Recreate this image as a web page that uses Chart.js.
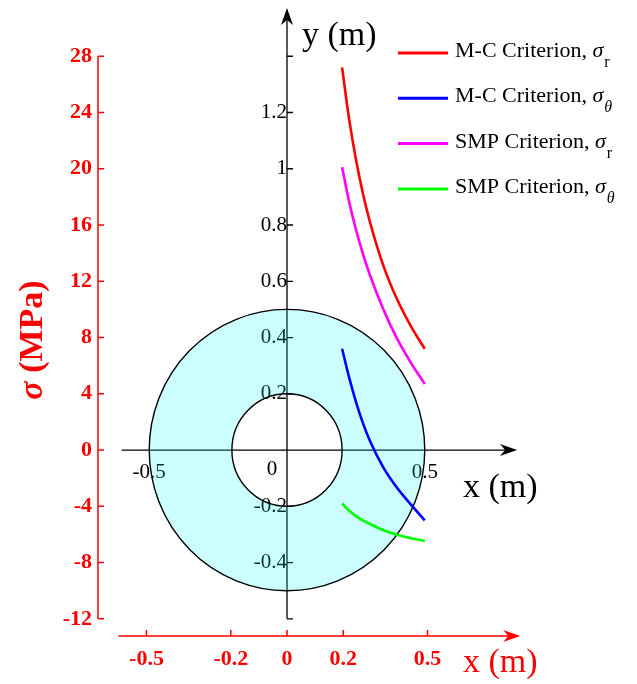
<!DOCTYPE html>
<html>
<head>
<meta charset="utf-8">
<script src="https://cdn.jsdelivr.net/npm/chart.js@4.4.0/dist/chart.umd.min.js"></script>
<style>
  html, body { margin: 0; padding: 0; background: #fff; }
  #wrap { width: 637px; height: 684px; }
</style>
</head>
<body>
<div id="wrap"><canvas id="myChart"></canvas></div>
<script>
'use strict';

// radial position r (m) and stresses (MPa)
const radius    = [0.2, 0.225, 0.25, 0.275, 0.3, 0.35, 0.4, 0.45, 0.5];
const mcSigmaR  = [27.2, 23.6, 20.7, 18.3, 16.3, 13.1, 10.7, 8.8, 7.2];
const mcSigmaT  = [7.2, 5.2, 3.45, 1.95, 0.7, -1.25, -2.7, -3.88, -5.0];
const smpSigmaR = [20.1, 17.7, 15.7, 14.0, 12.5, 10.0, 7.9, 6.2, 4.7];
const smpSigmaT = [-3.8, -4.3, -4.7, -5.0, -5.25, -5.7, -6.03, -6.27, -6.45];

const seriesNames  = ['M-C Criterion, ', 'M-C Criterion, ', 'SMP Criterion, ', 'SMP Criterion, '];
const seriesSubs   = ['r', 'θ', 'r', 'θ'];
const seriesColors = ['#ff0000', '#0000ff', '#ff00ff', '#00ff00'];

// tick labels
const sigmaTicks  = [-12, -8, -4, 0, 4, 8, 12, 16, 20, 24, 28];
const xTicks      = [-0.5, -0.2, 0, 0.2, 0.5];
const yMeterTicks = [-0.4, -0.2, 0.2, 0.4, 0.6, 0.8, 1, 1.2];
const yMeterMarks = [-0.6, -0.4, -0.2, 0.2, 0.4, 0.6, 0.8, 1, 1.2, 1.4];
const xMeterTicks = [-0.5, 0.5];

// tunnel section (m)
const innerR = 0.2;
const outerR = 0.5;

const MPA_PER_M = 20;
const SIG_MIN = -13.22, SIG_MAX = 31.43;
const SERIF = '"Liberation Serif", "Times New Roman", serif';

function zeroPad(s) {
  s.paddingTop = 0; s.paddingBottom = 0; s.paddingLeft = 0; s.paddingRight = 0;
}
function fixTicks(arr) {
  return function (s) { s.ticks = arr.map(v => ({ value: v })); };
}
function arrowHead(ctx, x, y, up, color) {
  ctx.save();
  ctx.translate(x, y);
  if (up) ctx.rotate(-Math.PI / 2);
  ctx.beginPath();
  ctx.moveTo(0, 0);
  ctx.lineTo(-17, -6);
  ctx.lineTo(-12, 0);
  ctx.lineTo(-17, 6);
  ctx.closePath();
  ctx.fillStyle = color;
  ctx.fill();
  ctx.restore();
}

const sectionPlugin = {
  id: 'section',
  beforeDatasetsDraw(chart) {
    const ctx = chart.ctx;
    const xd = chart.scales.xd, ym = chart.scales.ym, x = chart.scales.x, y = chart.scales.y;
    const cx = x.getPixelForValue(0), cy = y.getPixelForValue(0);
    ctx.save();
    // inner axes
    ctx.strokeStyle = '#000';
    ctx.lineWidth = 1.3;
    ctx.beginPath();
    ctx.moveTo(xd.getPixelForValue(-0.6), cy);
    ctx.lineTo(xd.getPixelForValue(0.835) - 12, cy);
    ctx.moveTo(cx, ym.getPixelForValue(-0.6));
    ctx.lineTo(cx, chart.chartArea.top + 12);
    yMeterMarks.forEach(v => {
      const py = ym.getPixelForValue(v);
      ctx.moveTo(cx, py);
      ctx.lineTo(cx + 6, py);
    });
    ctx.stroke();
    arrowHead(ctx, xd.getPixelForValue(0.835), cy, false, '#000');
    arrowHead(ctx, cx, chart.chartArea.top, true, '#000');

    ctx.fillStyle = '#000';
    ctx.font = '21px ' + SERIF;
    ctx.textAlign = 'center';
    ctx.textBaseline = 'alphabetic';
    ctx.fillText('0', cx - 15, cy + 25);

    // annulus
    const rxo = xd.getPixelForValue(outerR) - cx, ryo = cy - ym.getPixelForValue(outerR);
    const rxi = xd.getPixelForValue(innerR) - cx, ryi = cy - ym.getPixelForValue(innerR);
    ctx.beginPath();
    ctx.ellipse(cx, cy, rxo, ryo, 0, 0, Math.PI * 2);
    ctx.ellipse(cx, cy, rxi, ryi, 0, 0, Math.PI * 2);
    ctx.fillStyle = 'rgba(0,255,255,0.2)';
    ctx.fill('evenodd');
    ctx.lineWidth = 1.4;
    ctx.strokeStyle = '#000';
    ctx.beginPath();
    ctx.ellipse(cx, cy, rxo, ryo, 0, 0, Math.PI * 2);
    ctx.stroke();
    ctx.beginPath();
    ctx.ellipse(cx, cy, rxi, ryi, 0, 0, Math.PI * 2);
    ctx.stroke();
    ctx.restore();
  },
  afterDraw(chart) {
    const ctx = chart.ctx;
    const x = chart.scales.x, y = chart.scales.y;
    const area = chart.chartArea;
    ctx.save();
    // red stress axis
    ctx.strokeStyle = '#ff0000';
    ctx.lineWidth = 1.5;
    ctx.beginPath();
    ctx.moveTo(area.left, y.getPixelForValue(28));
    ctx.lineTo(area.left, y.getPixelForValue(-12));
    sigmaTicks.forEach(v => {
      const py = y.getPixelForValue(v);
      ctx.moveTo(area.left, py);
      ctx.lineTo(area.left + 6, py);
    });
    // red x axis
    const by = area.bottom;
    ctx.moveTo(x.getPixelForValue(-0.6), by);
    ctx.lineTo(x.getPixelForValue(0.83) - 12, by);
    xTicks.forEach(v => {
      const px = x.getPixelForValue(v);
      ctx.moveTo(px, by);
      ctx.lineTo(px, by - 6);
    });
    ctx.stroke();
    arrowHead(ctx, x.getPixelForValue(0.83), by, false, '#ff0000');

    // axis titles
    ctx.textAlign = 'left';
    ctx.textBaseline = 'alphabetic';
    ctx.font = '34px ' + SERIF;
    ctx.fillStyle = '#ff0000';
    ctx.fillText('x (m)', 463, 672);
    ctx.fillStyle = '#000';
    ctx.fillText('x (m)', 463, 497);
    ctx.fillText('y (m)', 302, 45);

    ctx.save();
    ctx.translate(42, 340);
    ctx.rotate(-Math.PI / 2);
    ctx.fillStyle = '#ff0000';
    ctx.font = 'italic bold 34px ' + SERIF;
    const w1 = ctx.measureText('σ').width;
    ctx.font = 'bold 34px ' + SERIF;
    const w2 = ctx.measureText(' (MPa)').width;
    const sx = -(w1 + w2) / 2;
    ctx.font = 'italic bold 34px ' + SERIF;
    ctx.fillText('σ', sx, 0);
    ctx.font = 'bold 34px ' + SERIF;
    ctx.fillText(' (MPa)', sx + w1, 0);
    ctx.restore();

    // legend
    seriesNames.forEach((name, i) => {
      const base = 57 + i * 45.3;
      ctx.strokeStyle = seriesColors[i];
      ctx.lineWidth = 3;
      ctx.beginPath();
      ctx.moveTo(398, base - 4);
      ctx.lineTo(448, base - 4);
      ctx.stroke();
      ctx.fillStyle = '#000';
      ctx.font = '22px ' + SERIF;
      ctx.fillText(name, 455, base);
      let tx = 455 + ctx.measureText(name).width;
      ctx.font = 'italic 22px ' + SERIF;
      ctx.fillText('σ', tx, base);
      tx += ctx.measureText('σ').width + 1;
      ctx.font = (seriesSubs[i] === 'θ' ? 'italic ' : '') + '16px ' + SERIF;
      ctx.fillText(seriesSubs[i], tx, base + 10);
    });
    ctx.restore();
  }
};

const ctx = document.getElementById('myChart').getContext('2d');

function series(values, i) {
  return {
    label: seriesNames[i] + 'σ' + seriesSubs[i],
    data: radius.map((r, k) => ({ x: r, y: values[k] })),
    borderColor: seriesColors[i],
    borderWidth: 2.6,
    pointRadius: 0,
    cubicInterpolationMode: 'monotone',
    xAxisID: 'xd',
    yAxisID: 'y'
  };
}

const myChart = new Chart(ctx, {
  type: 'line',
  data: {
    datasets: [
      series(mcSigmaR, 0),
      series(mcSigmaT, 1),
      series(smpSigmaR, 2),
      series(smpSigmaT, 3)
    ]
  },
  options: {
    responsive: true,
    maintainAspectRatio: false,
    animation: false,
    layout: { padding: { top: 8, right: 20, left: 0, bottom: 0 } },
    plugins: {
      legend: { display: false },
      tooltip: { enabled: false }
    },
    scales: {
      x: {
        type: 'linear',
        position: 'bottom',
        min: -0.6726,
        max: 1.1744,
        grid: { display: false, drawTicks: false },
        border: { display: false },
        afterBuildTicks: fixTicks(xTicks),
        afterFit: s => { s.height = 48; zeroPad(s); },
        ticks: {
          color: '#ff0000',
          padding: 10,
          maxRotation: 0,
          font: { family: SERIF, size: 22, weight: 'bold' },
          callback: v => String(v)
        }
      },
      xd: {
        type: 'linear',
        display: false,
        min: -0.686,
        max: 1.1978
      },
      xm: {
        type: 'linear',
        position: { y: 0 },
        min: -0.686,
        max: 1.1978,
        grid: { display: false, drawTicks: false },
        border: { display: false },
        afterBuildTicks: fixTicks(xMeterTicks),
        afterFit: zeroPad,
        ticks: {
          color: '#000',
          padding: 10,
          maxRotation: 0,
          font: { family: SERIF, size: 21 },
          callback: v => String(v)
        }
      },
      y: {
        type: 'linear',
        position: 'left',
        min: SIG_MIN,
        max: SIG_MAX,
        grid: { display: false, drawTicks: false },
        border: { display: false },
        afterBuildTicks: fixTicks(sigmaTicks),
        afterFit: s => { s.width = 98; zeroPad(s); },
        ticks: {
          color: '#ff0000',
          padding: 6,
          font: { family: SERIF, size: 22, weight: 'bold' },
          callback: v => String(v)
        }
      },
      ym: {
        type: 'linear',
        position: { x: 0 },
        min: SIG_MIN / MPA_PER_M,
        max: SIG_MAX / MPA_PER_M,
        grid: { display: false, drawTicks: false },
        border: { display: false },
        afterBuildTicks: fixTicks(yMeterTicks),
        afterFit: zeroPad,
        ticks: {
          color: '#000',
          padding: 8,
          font: { family: SERIF, size: 21 },
          callback: v => String(v)
        }
      }
    }
  },
  plugins: [sectionPlugin]
});
</script>
</body>
</html>
